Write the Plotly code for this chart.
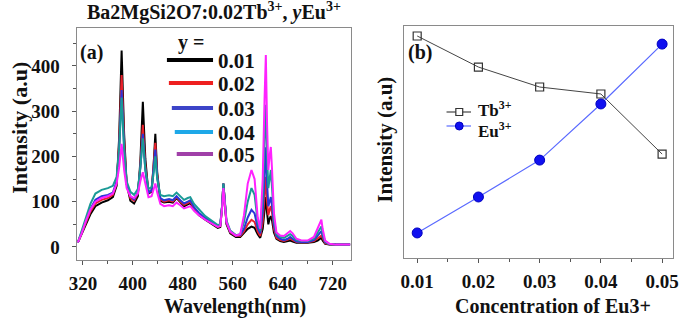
import plotly.graph_objects as go

# ---------------- data ----------------
wavelength = [312, 318, 325, 332, 340, 350, 360, 368, 374, 378, 382, 386, 390, 396, 402,
              408, 412, 416, 420, 425, 430, 433, 436, 439, 444, 450, 458, 464, 470, 476,
              482, 488, 492, 498, 506, 516, 526, 536, 540, 543, 545, 547, 550, 556, 565,
              572, 578, 584, 590, 595, 600, 604, 608, 611, 613, 615, 617, 619, 621, 623,
              626, 630, 636, 642, 648, 652, 656, 662, 670, 680, 690, 696, 700, 702, 704,
              708, 715, 725, 735, 748]

y_001 = [10, 28, 52, 72, 90, 98, 103, 110, 135, 240, 434, 250, 140, 102, 96,
         112, 190, 321, 195, 118, 122, 175, 250, 165, 102, 98, 100, 98, 108, 98,
         90, 94, 97, 82, 70, 60, 50, 42, 44, 90, 140, 105, 50, 30, 22,
         22, 30, 40, 45, 42, 28, 20, 40, 80, 110, 75, 50, 62, 68, 58,
         32, 18, 13, 11, 12, 14, 12, 9, 9, 9, 11, 14, 18, 20, 14,
         7, 5, 5, 5, 5]
y_002 = [10, 30, 56, 78, 96, 104, 108, 115, 140, 225, 380, 235, 140, 108, 102,
         118, 180, 270, 180, 120, 125, 170, 230, 160, 105, 100, 103, 100, 110, 100,
         93, 97, 100, 85, 72, 62, 52, 44, 46, 90, 140, 105, 52, 32, 24,
         24, 34, 50, 60, 55, 34, 24, 55, 115, 155, 100, 70, 82, 90, 75,
         40, 20, 15, 13, 15, 18, 15, 11, 10, 10, 13, 18, 23, 25, 18,
         8, 5, 5, 5, 5]
y_003 = [10, 32, 60, 84, 104, 112, 115, 120, 145, 215, 347, 220, 140, 112, 105,
         120, 175, 250, 170, 120, 125, 165, 215, 155, 108, 103, 106, 103, 112, 103,
         96, 100, 103, 88, 75, 64, 54, 46, 48, 92, 140, 105, 54, 34, 25,
         26, 40, 65, 82, 74, 42, 30, 75, 160, 220, 140, 90, 100, 110, 90,
         48, 24, 18, 15, 18, 22, 18, 12, 11, 11, 15, 24, 31, 35, 24,
         10, 6, 5, 5, 5]
y_004 = [10, 34, 66, 95, 118, 126, 130, 135, 155, 215, 330, 215, 145, 122, 115,
         128, 175, 240, 170, 128, 132, 160, 200, 150, 115, 112, 114, 112, 120, 112,
         104, 108, 110, 95, 82, 68, 58, 48, 50, 92, 140, 108, 58, 36, 26,
         28, 55, 100, 130, 115, 55, 35, 110, 240, 314, 200, 130, 150, 170, 130,
         60, 28, 22, 20, 25, 28, 24, 15, 13, 13, 18, 32, 42, 45, 30,
         12, 6, 5, 5, 5]
y_005 = [10, 30, 58, 82, 100, 108, 112, 118, 140, 175, 228, 170, 130, 112, 108,
         118, 145, 165, 140, 110, 112, 125, 140, 120, 95, 90, 92, 90, 98, 92,
         85, 88, 90, 80, 70, 60, 52, 44, 46, 85, 130, 100, 55, 34, 25,
         28, 70, 140, 170, 150, 65, 40, 150, 330, 424, 270, 170, 200, 221, 170,
         75, 32, 25, 24, 30, 35, 30, 18, 14, 14, 22, 42, 56, 60, 40,
         14, 7, 5, 5, 5]

series_labels = ["0.01", "0.02", "0.03", "0.04", "0.05"]
series_values = [y_001, y_002, y_003, y_004, y_005]
curve_colors = ["#000000", "#e8202a", "#2b35d8", "#1a9a96", "#ff22ff"]
legend_colors = ["#000000", "#ee2020", "#3c44c8", "#1ea8e8", "#a040a8"]

conc = [0.01, 0.02, 0.03, 0.04, 0.05]
conc_labels = ["0.01", "0.02", "0.03", "0.04", "0.05"]
tb_intensity = [95.7, 82.3, 73.7, 70.7, 44.8]
eu_intensity = [10.8, 26.3, 42.2, 66.4, 92.2]

# ---------------- figure ----------------
W, H = 685, 318
FONT = "Liberation Serif, Times New Roman, Times, serif"
INK = "#111111"

def px_x(p):
    return p / W

def px_y(p):
    return 1 - p / H

fig = go.Figure()

for lab, vals, col in zip(series_labels, series_values, curve_colors):
    fig.add_trace(go.Scatter(x=wavelength, y=vals, mode="lines", name=lab,
                             line=dict(color=col, width=2),
                             showlegend=False, xaxis="x", yaxis="y"))

TB_LINE = "#444444"
EU_LINE = "#5a6aff"
EU_MARK = "#1010f0"

fig.add_trace(go.Scatter(x=conc, y=tb_intensity, mode="lines+markers", name="Tb3+",
                         line=dict(color=TB_LINE, width=1),
                         marker=dict(symbol="square-open", size=8, color="#333333",
                                     line=dict(width=1.2)),
                         showlegend=False, xaxis="x2", yaxis="y2"))
fig.add_trace(go.Scatter(x=conc, y=eu_intensity, mode="lines+markers", name="Eu3+",
                         line=dict(color=EU_LINE, width=1.2),
                         marker=dict(symbol="circle", size=10, color=EU_MARK,
                                     line=dict(width=1, color="#0000c0")),
                         showlegend=False, xaxis="x2", yaxis="y2"))

axis_line = dict(showline=True, linecolor="#8a8a8a", linewidth=1.2, mirror=True,
                 showgrid=False, zeroline=False, ticks="outside", ticklen=4,
                 tickcolor="#555555")
tickfont = dict(family=FONT, size=19, color=INK, weight="bold")

fig.update_layout(
    width=W, height=H,
    margin=dict(l=0, r=0, t=0, b=0),
    paper_bgcolor="white", plot_bgcolor="white",
    font=dict(family=FONT, color=INK),
    showlegend=False,
    xaxis=dict(domain=[px_x(70), px_x(350)], range=[310, 750],
               tickmode="linear", tick0=320, dtick=80,
               minor=dict(ticks="outside", dtick=40, tick0=320, ticklen=3, tickcolor="#555555"),
               tickfont=tickfont, ticklabelstandoff=2,
               anchor="y", **axis_line),
    yaxis=dict(domain=[px_y(260), px_y(28)], range=[-29, 484],
               tickmode="linear", tick0=0, dtick=100,
               minor=dict(ticks="outside", dtick=50, tick0=0, ticklen=3, tickcolor="#555555"),
               tickfont=dict(family=FONT, size=19, color=INK, weight="bold"),
               ticklabelstandoff=8,
               anchor="x", **axis_line),
    xaxis2=dict(domain=[px_x(404), px_x(678)], range=[0.0079, 0.0518],
                tickmode="array", tickvals=conc, ticktext=conc_labels,
                minor=dict(ticks="outside", tickvals=[0.015, 0.025, 0.035, 0.045],
                           ticklen=3, tickcolor="#555555"),
                tickfont=tickfont, ticklabelstandoff=2,
                anchor="y2", **axis_line),
    yaxis2=dict(domain=[px_y(258), px_y(26)], range=[0, 100],
                showline=True, linecolor="#8a8a8a", linewidth=1.2, mirror=True,
                showgrid=False, zeroline=False, showticklabels=False, ticks="",
                anchor="x2"),
)

# ---- legend keys (drawn in paper space) ----
shapes = []
annotations = []
leg_rows = [60, 83, 108, 132, 154]
leg_starts = [162, 164, 167, 170, 172]
for lab, col, ry, sx in zip(series_labels, legend_colors, leg_rows, leg_starts):
    shapes.append(dict(type="line", xref="paper", yref="paper",
                       x0=px_x(sx), x1=px_x(209), y0=px_y(ry), y1=px_y(ry),
                       line=dict(color=col, width=4)))
    annotations.append(dict(text="<b>%s</b>" % lab, x=px_x(212), y=px_y(ry + 1),
                            xanchor="left", font=dict(size=21, family=FONT, color=INK)))
annotations.append(dict(text="<b>y =</b>", x=px_x(187), y=px_y(43), xanchor="center",
                        font=dict(size=20, family=FONT, color=INK)))

# right legend
for ry, col in [(112, TB_LINE), (126, EU_LINE)]:
    shapes.append(dict(type="line", xref="paper", yref="paper",
                       x0=px_x(447), x1=px_x(472), y0=px_y(ry), y1=px_y(ry),
                       line=dict(color=col, width=1.2)))
shapes.append(dict(type="rect", xref="paper", yref="paper",
                   x0=px_x(456.5), x1=px_x(463.5), y0=px_y(115.5), y1=px_y(108.5),
                   line=dict(color="#333333", width=1.2), fillcolor="white"))
shapes.append(dict(type="circle", xref="paper", yref="paper",
                   x0=px_x(456), x1=px_x(464), y0=px_y(130), y1=px_y(122),
                   line=dict(color="#0000c0", width=1), fillcolor=EU_MARK))
annotations.append(dict(text="<b>Tb<sup>3+</sup></b>", x=px_x(477), y=px_y(109),
                        xanchor="left", font=dict(size=17, family=FONT, color=INK)))
annotations.append(dict(text="<b>Eu<sup>3+</sup></b>", x=px_x(477), y=px_y(130),
                        xanchor="left", font=dict(size=17, family=FONT, color=INK)))

ann_font = dict(family=FONT, color=INK)
annotations += [
    dict(text="<b>Ba2MgSi2O7:0.02Tb<sup>3+</sup>, <i>y</i>Eu<sup>3+</sup></b>",
         x=px_x(210), y=px_y(12), xanchor="center", font=dict(size=20, **ann_font)),
    dict(text="<b>(a)</b>", x=px_x(85), y=px_y(53), xanchor="center", font=dict(size=20, **ann_font)),
    dict(text="<b>(b)</b>", x=px_x(420), y=px_y(53), xanchor="center", font=dict(size=20, **ann_font)),
    dict(text="<b>Wavelength(nm)</b>", x=px_x(231), y=px_y(306), xanchor="center",
         font=dict(size=20, **ann_font)),
    dict(text="<b>Concentration of Eu3+</b>", x=px_x(556), y=px_y(306), xanchor="center",
         font=dict(size=20, **ann_font)),
    dict(text="<b>Intensity (a.u)</b>", x=px_x(11), y=px_y(128), xanchor="center",
         textangle=-90, font=dict(size=22, **ann_font)),
    dict(text="<b>Intensity (a.u)</b>", x=px_x(384), y=px_y(140), xanchor="center",
         textangle=-90, font=dict(size=21, **ann_font)),
]
for a in annotations:
    a.update(xref="paper", yref="paper", showarrow=False, yanchor="middle")
fig.update_layout(annotations=annotations, shapes=shapes)

fig.write_html("out.html", config={"displayModeBar": False},
               post_script="document.body.style.margin='0';document.body.style.padding='0';")
